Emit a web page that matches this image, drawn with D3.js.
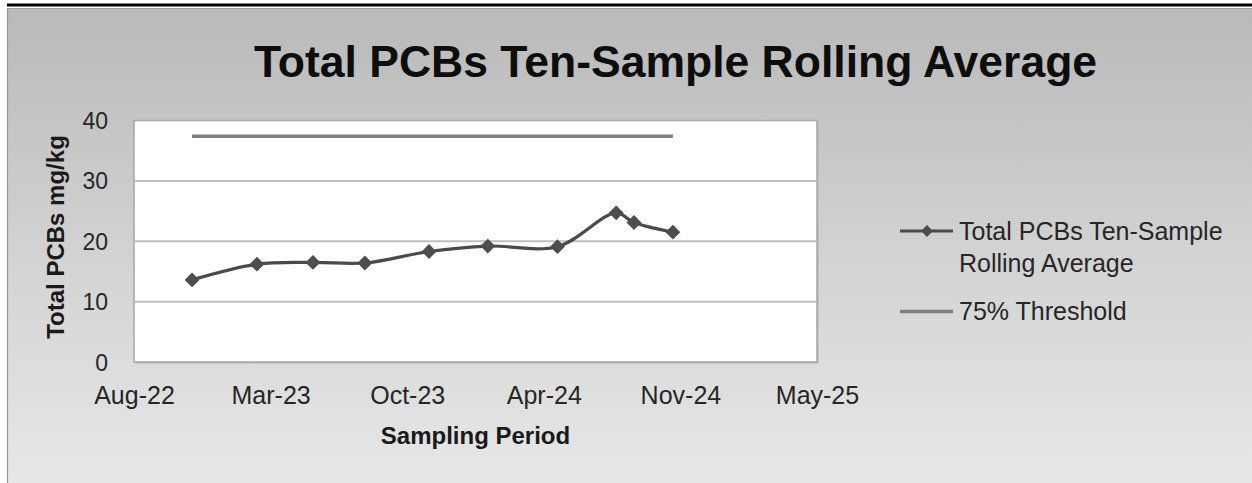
<!DOCTYPE html>
<html>
<head>
<meta charset="utf-8">
<script src="https://cdn.jsdelivr.net/npm/d3@7"></script>
<style>
  html, body { margin: 0; padding: 0; background: #ffffff; }
  svg { display: block; }
  text { font-family: "Liberation Sans", Arial, sans-serif; }
</style>
</head>
<body>
<svg id="chart" width="1252" height="483"></svg>
<script>
// Ten-sample rolling average of total PCBs, by sampling date
const sampleDates = ["2022-11-23", "2023-02-26", "2023-05-19", "2023-08-03", "2023-11-05",
                     "2024-01-30", "2024-05-11", "2024-08-05", "2024-08-31", "2024-10-27"];
const rollingAverage = [13.6, 16.2, 16.5, 16.4, 18.3, 19.2, 19.1, 24.7, 23.1, 21.5];
const thresholdValue = 37.4;
const yTicks = [0, 10, 20, 30, 40];
const axisStart = "2022-08-30";
const axisEnd = "2025-05-26";
const tickStepDays = 200;

const seriesName = "Total PCBs Ten-Sample Rolling Average";
const thresholdName = "75% Threshold";

const parse = d3.utcParse("%Y-%m-%d");
const svg = d3.select("#chart");
const W = 1252, H = 483;

// Panel background
const defs = svg.append("defs");
const grad = defs.append("linearGradient").attr("id", "bg").attr("x1", 0).attr("y1", 0).attr("x2", 0).attr("y2", 1);
grad.append("stop").attr("offset", "0%").attr("stop-color", "#b9b9b9");
grad.append("stop").attr("offset", "55%").attr("stop-color", "#d4d4d4");
grad.append("stop").attr("offset", "100%").attr("stop-color", "#e7e7e7");

svg.append("rect").attr("x", 0).attr("y", 0).attr("width", W).attr("height", H).attr("fill", "#ffffff");
svg.append("rect").attr("x", 7).attr("y", 8).attr("width", W - 7).attr("height", H - 8)
  .attr("fill", "url(#bg)");
svg.append("line").attr("x1", 7.5).attr("x2", 7.5).attr("y1", 8).attr("y2", H)
  .attr("stroke", "#9a9a9a").attr("stroke-width", 1.2);
svg.append("line").attr("x1", 7).attr("x2", W).attr("y1", 8.5).attr("y2", 8.5)
  .attr("stroke", "#a0a0a0").attr("stroke-width", 1);
svg.append("line").attr("x1", 7).attr("x2", W).attr("y1", 5).attr("y2", 5)
  .attr("stroke", "#000000").attr("stroke-width", 3);

// Plot area
const plot = { left: 134, right: 817, top: 120.5, bottom: 362 };

const x = d3.scaleUtc()
  .domain([parse(axisStart), parse(axisEnd)])
  .range([plot.left, plot.right]);
const y = d3.scaleLinear()
  .domain([0, 40])
  .range([plot.bottom, plot.top]);

svg.append("rect")
  .attr("x", plot.left + 1.5).attr("y", plot.top + 1.5)
  .attr("width", plot.right - plot.left).attr("height", plot.bottom - plot.top)
  .attr("fill", "#b4b4b4");
svg.append("rect")
  .attr("x", plot.left).attr("y", plot.top)
  .attr("width", plot.right - plot.left).attr("height", plot.bottom - plot.top)
  .attr("fill", "#ffffff").attr("stroke", "#a6a6a6").attr("stroke-width", 1.5);

// Gridlines
svg.append("g")
  .selectAll("line")
  .data(yTicks.filter(v => v > 0 && v < 40))
  .join("line")
  .attr("x1", plot.left).attr("x2", plot.right)
  .attr("y1", d => y(d)).attr("y2", d => y(d))
  .attr("stroke", "#bfbfbf").attr("stroke-width", 2);

// Y axis labels
const yAxis = d3.axisLeft(y).tickValues(yTicks).tickSize(0).tickPadding(0);
const gy = svg.append("g").attr("transform", "translate(108,0)").call(yAxis);
gy.select(".domain").remove();
gy.selectAll("text")
  .attr("font-family", "Liberation Sans, Arial, sans-serif")
  .attr("font-size", 23).attr("fill", "#262626").attr("dy", "0.35em");

// X axis labels
const xTickValues = d3.range(6).map(i => d3.utcDay.offset(parse(axisStart), i * tickStepDays));
const xAxis = d3.axisBottom(x).tickValues(xTickValues).tickFormat(d3.utcFormat("%b-%y")).tickSize(0).tickPadding(0);
const gx = svg.append("g").attr("transform", "translate(0,404)").call(xAxis);
gx.select(".domain").remove();
gx.selectAll("text")
  .attr("font-family", "Liberation Sans, Arial, sans-serif")
  .attr("font-size", 25).attr("fill", "#262626").attr("y", 0).attr("dy", 0);

// Axis titles
svg.append("text")
  .attr("x", (plot.left + plot.right) / 2).attr("y", 444)
  .attr("text-anchor", "middle")
  .attr("font-size", 24).attr("font-weight", "bold").attr("fill", "#1a1a1a")
  .text("Sampling Period");

svg.append("text")
  .attr("transform", "translate(64,237) rotate(-90)")
  .attr("text-anchor", "middle")
  .attr("font-size", 24).attr("font-weight", "bold").attr("fill", "#1a1a1a")
  .text("Total PCBs mg/kg");

// Chart title
svg.append("text")
  .attr("x", 675.5).attr("y", 77)
  .attr("text-anchor", "middle")
  .attr("font-size", 44.5).attr("font-weight", "bold").attr("fill", "#0d0d0d")
  .text("Total PCBs Ten-Sample Rolling Average");

// Series
const points = sampleDates.map((d, i) => ({ date: parse(d), value: rollingAverage[i] }));

const thresholdLine = d3.line()
  .x(d => x(d.date)).y(() => y(thresholdValue));
svg.append("path")
  .datum(points)
  .attr("d", thresholdLine)
  .attr("fill", "none").attr("stroke", "#7f7f7f").attr("stroke-width", 3.5);

const avgLine = d3.line()
  .x(d => x(d.date)).y(d => y(d.value))
  .curve(d3.curveCatmullRom.alpha(0.5));
svg.append("path")
  .datum(points)
  .attr("d", avgLine)
  .attr("fill", "none").attr("stroke", "#4a4a4a").attr("stroke-width", 3.2)
  .attr("stroke-linejoin", "round");

const diamond = d3.symbol().type(d3.symbolDiamond2).size(140);
svg.append("g")
  .selectAll("path")
  .data(points)
  .join("path")
  .attr("transform", d => `translate(${x(d.date)},${y(d.value)})`)
  .attr("d", diamond)
  .attr("fill", "#4d4d4d");

// Legend
const legend = svg.append("g");
legend.append("line").attr("x1", 900).attr("x2", 953).attr("y1", 231).attr("y2", 231)
  .attr("stroke", "#4a4a4a").attr("stroke-width", 3);
legend.append("path").attr("transform", "translate(927,231)")
  .attr("d", d3.symbol().type(d3.symbolDiamond2).size(90)).attr("fill", "#4d4d4d");
const t1 = legend.append("text").attr("x", 959).attr("y", 239.5)
  .attr("font-size", 25).attr("fill", "#262626");
t1.append("tspan").attr("x", 959).text("Total PCBs Ten-Sample");
t1.append("tspan").attr("x", 959).attr("dy", 32.3).text("Rolling Average");

legend.append("line").attr("x1", 900).attr("x2", 953).attr("y1", 311.5).attr("y2", 311.5)
  .attr("stroke", "#7f7f7f").attr("stroke-width", 3.5);
legend.append("text").attr("x", 959).attr("y", 319.5)
  .attr("font-size", 25).attr("fill", "#262626")
  .text(thresholdName);
</script>
</body>
</html>
